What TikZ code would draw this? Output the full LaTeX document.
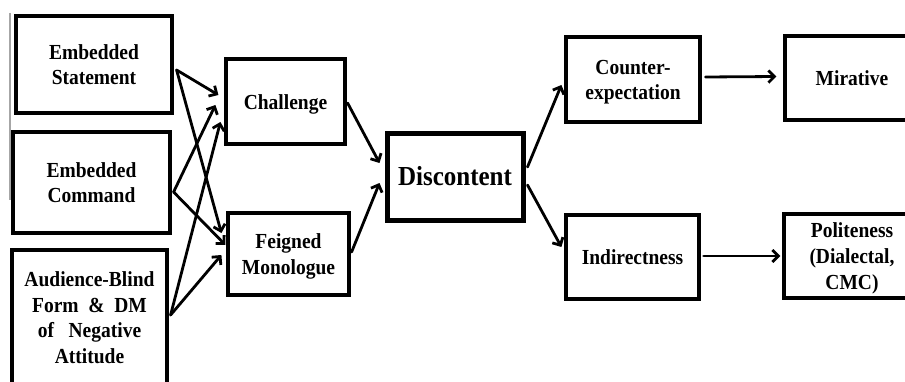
\documentclass[tikz,border=0pt]{standalone}
\usepackage{fontspec}
\setmainfont{Liberation Serif}
\usetikzlibrary{arrows.meta}
\newcommand{\stx}[1]{\raisebox{-2.5pt}[\height][\depth]{\scalebox{1}[1.1]{\begin{tabular}{@{}c@{}}#1\end{tabular}}}}
\begin{document}
\begin{tikzpicture}[x=1pt,y=1pt,
  box/.style={draw=black,line width=3.2pt,fill=white,inner sep=0pt,align=center,
    font=\fontsize{19.5}{23.3}\selectfont\bfseries},
  arr/.style={line width=2.8pt,line cap=round,-{Straight Barb[length=6pt,width=12pt,line width=2.8pt]}}]
\clip (0,0) rectangle (905,381);
\fill[white] (0,0) rectangle (905,381);
% scan edge line
\draw[gray!70,line width=1.5pt] (10,368) -- (10,181);
% nodes
\node[box,minimum width=156pt,minimum height=97pt] (es) at (94,316.5) {\stx{Embedded\\Statement}};
\node[box,minimum width=157pt,minimum height=101pt] (ec) at (91.5,198.5) {\stx{Embedded\\Command}};
\node[box,minimum width=155pt,minimum height=135pt] (ab) at (89.5,63.5) {\stx{Audience-Blind\\Form\hspace{0.5em}\&\hspace{0.5em}DM\\of\hspace{0.75em}Negative\\Attitude}};
\node[box,minimum width=119pt,minimum height=85pt] (ch) at (285.5,279.5) {\stx{Challenge}};
\node[box,minimum width=121pt,minimum height=82pt] (fm) at (288.5,127) {\stx{Feigned\\Monologue}};
\node[box,line width=5pt,minimum width=136pt,minimum height=87pt,font=\fontsize{25}{30}\selectfont\bfseries] (dc) at (455,204.5) {\stx{Discontent}};
\node[box,minimum width=134pt,minimum height=85pt] (ce) at (633,301.5) {\stx{Counter-\\expectation}};
\node[box,minimum width=133pt,minimum height=84pt] (ind) at (632.5,124) {\stx{Indirectness}};
\node[box,minimum width=134pt,minimum height=84pt] (mir) at (852,303) {\stx{Mirative}};
\node[box,minimum width=136pt,minimum height=84pt] (pol) at (852,125) {\stx{Politeness\\(Dialectal,\\CMC)}};
% connectors
\draw[arr] ([shift={(3,-5.5)}]es.east) -- ([shift={(-6,6.5)}]ch.west);
\draw[arr] ([shift={(3,-5.5)}]es.east) -- ([shift={(-5,21)}]fm.west);
\draw[arr] ([shift={(2,-9.5)}]ec.east) -- ([shift={(-9,-3.5)}]ch.west);
\draw[arr] ([shift={(2,-9.5)}]ec.east) -- ([shift={(-1,9)}]fm.west);
\draw[arr] ([shift={(2,2.5)}]ab.east) -- ([shift={(-4,-20.5)}]ch.west);
\draw[arr] ([shift={(2,2.5)}]ab.east) -- ([shift={(-5,-1)}]fm.west);
\draw[arr] ([shift={(1,-1.5)}]ch.east) -- ([shift={(-5,13.5)}]dc.west);
\draw[arr] ([shift={(1,2)}]fm.east) -- ([shift={(-5,-6.5)}]dc.west);
\draw[arr] ([shift={(2,9.5)}]dc.east) -- ([shift={(-3,-5.5)}]ce.west);
\draw[arr] ([shift={(2,-8.5)}]dc.east) -- ([shift={(-3,10)}]ind.west);
\draw[arr] ([shift={(4,2.5)}]ce.east) -- ([shift={(-7,1.5)}]mir.west);
\draw[arr] ([shift={(3,1)}]ind.east) -- ([shift={(-2,0)}]pol.west);
\end{tikzpicture}
\end{document}
